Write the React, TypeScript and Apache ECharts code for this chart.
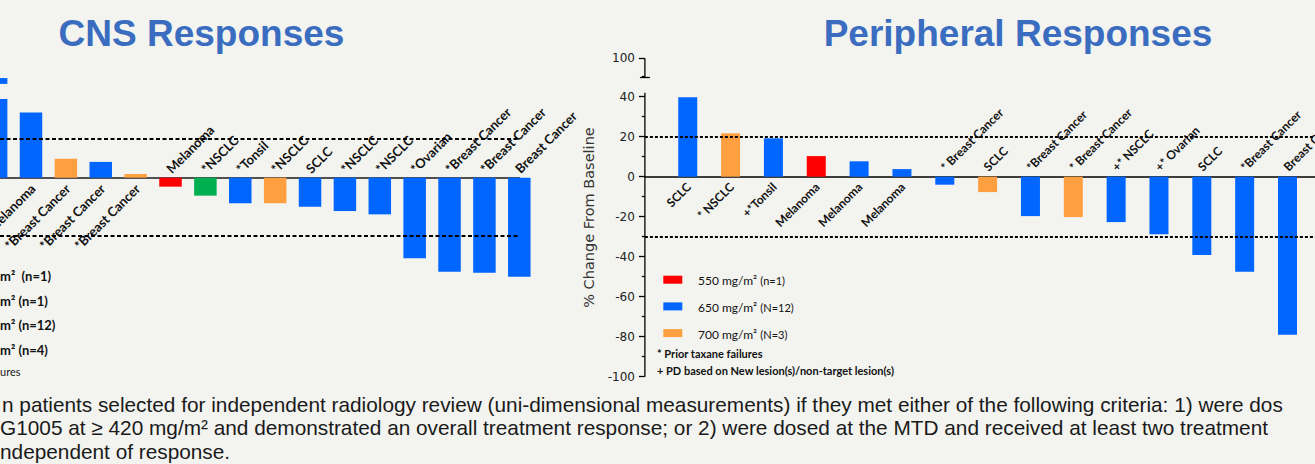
import React, { useEffect, useRef } from "react";
import * as echarts from "echarts";

// ---------- CNS responses (left panel, cropped at the left edge) ----------
const cnsLabels = ["", "Melanoma", "*Breast Cancer", "*Breast Cancer", "*Breast Cancer", "Melanoma", "*NSCLC", "*Tonsil", "*NSCLC", "SCLC", "*NSCLC", "*NSCLC", "*Ovarian", "*Breast Cancer", "*Breast Cancer", "Breast Cancer"];
const cnsValues = [40.4, 33.5, 9.7, 8.1, 1.9, -4.6, -9.2, -13.1, -13.1, -14.9, -17.1, -18.8, -41.3, -48.2, -48.7, -50.8];
const cnsDoses = ["650", "650", "700", "650", "700", "550", "600", "650", "700", "650", "650", "650", "650", "650", "650", "650"];
// first CNS bar is drawn broken: a hidden gap above its lower part, then its top piece
const cnsBrokenGap = [7.7];
const cnsBrokenCap = [3.0];
const cnsLegendTexts = ["m²  (n=1)", "m² (n=1)", "m² (n=12)", "m² (n=4)"];
const cnsNoteTail = "ures";

// ---------- Peripheral responses (right panel) ----------
const periLabels = ["SCLC", "* NSCLC", "+*Tonsil", "Melanoma", "Melanoma", "Melanoma", "* Breast Cancer", "SCLC", "*Breast Cancer", "* Breast Cancer", "+* NSCLC", "+* Ovarian", "SCLC", "*Breast Cancer", "Breast Cancer"];
const periValues = [39.7, 21.7, 19.2, 10.3, 7.7, 3.8, -4.0, -7.7, -19.7, -20.2, -22.7, -28.8, -39.2, -47.5, -79.0];
const periDoses = ["650", "700", "650", "550", "650", "650", "650", "700", "650", "700", "650", "650", "650", "650", "650"];
const periLegendDoses = ["550", "650", "700"];
const periLegendTexts = ["550 mg/m²", "650 mg/m²", "700 mg/m²"];
const periLegendCounts = ["(n=1)", "(N=12)", "(N=3)"];
const periNotes = ["* Prior taxane failures", "+ PD based on New lesion(s)/non-target lesion(s)"];
const periYMin = -100;
const periYMax = 59.2; // top of the broken axis segment
const periYInterval = 20;
const periBreakLabel = "100";
const periAxisName = "% Change From Baseline";

const thresholds = [20, -30];

const titles = ["CNS Responses", "Peripheral Responses"];
const footnoteLines = [
  "n patients selected for independent radiology review (uni-dimensional measurements) if they met either of the following criteria: 1) were dos",
  "G1005 at ≥ 420 mg/m² and demonstrated an overall treatment response; or 2) were dosed at the MTD and received at least two treatment",
  "ndependent of response.",
];

const doseColors: Record<string, string> = {
  "550": "#ff0000",
  "600": "#00b050",
  "650": "#0066ff",
  "700": "#ffa040",
};

const BG = "#f3f4f0";
const LABEL_FONT = "Lato, 'Open Sans', sans-serif";
const CNS_BAR_W = 22.5;
const PERI_BAR_W = 19;

function barItems(
  values: number[],
  labels: string[],
  doses: string[],
  fontSize: number,
  posOff: [number, number],
  negOff: [number, number]
) {
  const k = Math.SQRT1_2;
  return values.map((v, i) => {
    const pos = v >= 0;
    const [sx, sy] = pos ? posOff : negOff;
    return {
      value: [i + 1, v],
      itemStyle: { color: doseColors[doses[i]] },
      label: {
        show: labels[i] !== "",
        formatter: labels[i],
        position: pos ? "bottom" : "top",
        distance: 0,
        rotate: 45,
        align: pos ? "right" : "left",
        verticalAlign: "middle",
        offset: [k * (sx - sy), k * (sx + sy)],
        fontFamily: LABEL_FONT,
        fontWeight: "bold",
        fontSize,
        color: "#111",
      },
    };
  });
}

function buildOption() {
  return {
    animation: false,
    backgroundColor: BG,
    grid: [
      { left: 0, top: 60.7, width: 519.3, height: 312 },
      { left: 644.9, top: 58.3, width: 670.1, height: 318.4 },
    ],
    xAxis: [
      {
        gridIndex: 0, type: "value", min: 1.111, max: 16,
        axisLine: { show: true, onZero: true, lineStyle: { color: "#505050", width: 2 } },
        axisTick: { show: false }, axisLabel: { show: false }, splitLine: { show: false },
      },
      {
        gridIndex: 1, type: "value", min: 0, max: 15.642,
        axisLine: { show: true, onZero: true, lineStyle: { color: "#000", width: 1.5 } },
        axisTick: { show: false }, axisLabel: { show: false }, splitLine: { show: false },
      },
    ],
    yAxis: [
      { gridIndex: 0, type: "value", min: -100, max: 60, show: false, splitLine: { show: false } },
      {
        gridIndex: 1, type: "value", min: periYMin, max: periYMax, interval: periYInterval,
        axisLine: { show: false },
        axisTick: { show: true, length: 6, lineStyle: { color: "#000", width: 1.3 } },
        minorTick: { show: true, splitNumber: 2, length: 3, lineStyle: { color: "#000", width: 1.3 } },
        splitLine: { show: false },
        minorSplitLine: { show: false },
        axisLabel: {
          margin: 10,
          fontSize: 12,
          fontFamily: "'DejaVu Sans', sans-serif",
          color: "#222",
          formatter: (v: number) => (v > 40 ? periBreakLabel : String(v)),
        },
        name: periAxisName,
        nameLocation: "middle",
        nameGap: 44,
        nameTextStyle: { fontSize: 14.5, fontFamily: "'DejaVu Sans', sans-serif", color: "#333" },
      },
    ],
    series: [
      {
        type: "bar", xAxisIndex: 0, yAxisIndex: 0, barWidth: CNS_BAR_W, clip: false,
        data: barItems(cnsValues, cnsLabels, cnsDoses, 13, [2, 8.5], [-2, -7]),
        markLine: {
          silent: true, symbol: "none", label: { show: false },
          lineStyle: { color: "#000", width: 2, type: [4, 2.5] },
          data: thresholds.map((t) => ({ yAxis: t })),
        },
      },
      {
        // top piece of the broken first CNS bar
        type: "custom", xAxisIndex: 0, yAxisIndex: 0, clip: false,
        data: cnsBrokenCap.map((c, i) => {
          const start = cnsValues[i] + cnsBrokenGap[i];
          return [i + 1, start, start + c];
        }),
        renderItem: (_p: any, api: any) => {
          const x = api.value(0);
          const a = api.coord([x, api.value(1)]);
          const b = api.coord([x, api.value(2)]);
          return {
            type: "rect",
            shape: { x: a[0] - CNS_BAR_W / 2, y: b[1], width: CNS_BAR_W, height: a[1] - b[1] },
            style: { fill: doseColors[cnsDoses[0]] },
          };
        },
      },
      {
        type: "bar", xAxisIndex: 1, yAxisIndex: 1, barWidth: PERI_BAR_W, clip: false,
        data: barItems(periValues, periLabels, periDoses, 12, [1, 8], [-2, -8]),
        markLine: {
          silent: true, symbol: "none", label: { show: false },
          lineStyle: { color: "#000", width: 2, type: [3, 2] },
          data: thresholds.map((t) => ({ yAxis: t })),
        },
      },
    ],
  };
}

function buildGraphics(chart: echarts.ECharts) {
  const px = (v: number) => chart.convertToPixel({ gridIndex: 1 }, [0, v]) as number[];
  const top = px(periYMax);
  const cap = px((40 + periYMax) / 2);
  const lowTop = px(42);
  const bottom = px(periYMin);
  const axisStyle = { stroke: "#000", lineWidth: 1.3 };
  const g: any[] = [];

  // broken y axis of the peripheral panel
  g.push({ type: "line", shape: { x1: top[0], y1: top[1], x2: cap[0], y2: cap[1] }, style: axisStyle });
  g.push({ type: "line", shape: { x1: cap[0] - 5, y1: cap[1], x2: cap[0] + 5, y2: cap[1] }, style: axisStyle });
  g.push({ type: "line", shape: { x1: lowTop[0], y1: lowTop[1], x2: bottom[0], y2: bottom[1] }, style: axisStyle });

  // titles
  const titleX = [201.5, 1018];
  titles.forEach((t, i) =>
    g.push({
      type: "text", x: titleX[i], y: 33,
      style: {
        text: t, align: "center", verticalAlign: "middle",
        fontSize: 37, fontWeight: "bold", fontFamily: "'Liberation Sans', Arial, sans-serif", fill: "#3a6cbf",
      },
    })
  );

  // peripheral legend
  periLegendDoses.forEach((d, i) => {
    const y = 275.7 + i * 26.7;
    g.push({ type: "rect", shape: { x: 663.3, y, width: 19, height: 8 }, style: { fill: doseColors[d] } });
    g.push({
      type: "text", x: 698, y: y + 5,
      style: {
        text: `{a|${periLegendTexts[i]}} {b|${periLegendCounts[i]}}`,
        verticalAlign: "middle", fill: "#111",
        rich: {
          a: { fontSize: 12, fontFamily: LABEL_FONT, fill: "#111" },
          b: { fontSize: 11, fontFamily: LABEL_FONT, fill: "#111" },
        },
      },
    });
  });
  periNotes.forEach((t, i) =>
    g.push({
      type: "text", x: 657, y: 353.5 + i * 16.7,
      style: { text: t, verticalAlign: "middle", fontSize: 11, fontWeight: "bold", fontFamily: LABEL_FONT, fill: "#111" },
    })
  );

  // CNS legend (cropped in the original)
  cnsLegendTexts.forEach((t, i) =>
    g.push({
      type: "text", x: 0, y: 275.7 + i * 24.8,
      style: { text: t, align: "left", verticalAlign: "middle", fontSize: 13, fontWeight: "bold", fontFamily: LABEL_FONT, fill: "#111" },
    })
  );
  g.push({
    type: "text", x: 0, y: 371.7,
    style: { text: cnsNoteTail, align: "left", verticalAlign: "middle", fontSize: 11, fontFamily: LABEL_FONT, fill: "#222" },
  });

  // footnote
  const footX = [2, 0, 0];
  footnoteLines.forEach((t, i) =>
    g.push({
      type: "text", x: footX[i], y: 404 + i * 23.5,
      style: { text: t, verticalAlign: "middle", fontSize: 20.8, fontFamily: "'Liberation Sans', Arial, sans-serif", fill: "#1a1a1a" },
    })
  );
  return g;
}

export default function App() {
  const ref = useRef<HTMLDivElement>(null);
  useEffect(() => {
    document.body.style.margin = "0";
    const chart = echarts.init(ref.current!, null, { renderer: "svg" });
    chart.setOption(buildOption() as any);
    chart.setOption({ graphic: buildGraphics(chart) } as any);
    return () => chart.dispose();
  }, []);
  return <div ref={ref} style={{ position: "fixed", left: 0, top: 0, width: 1315, height: 464 }} />;
}
